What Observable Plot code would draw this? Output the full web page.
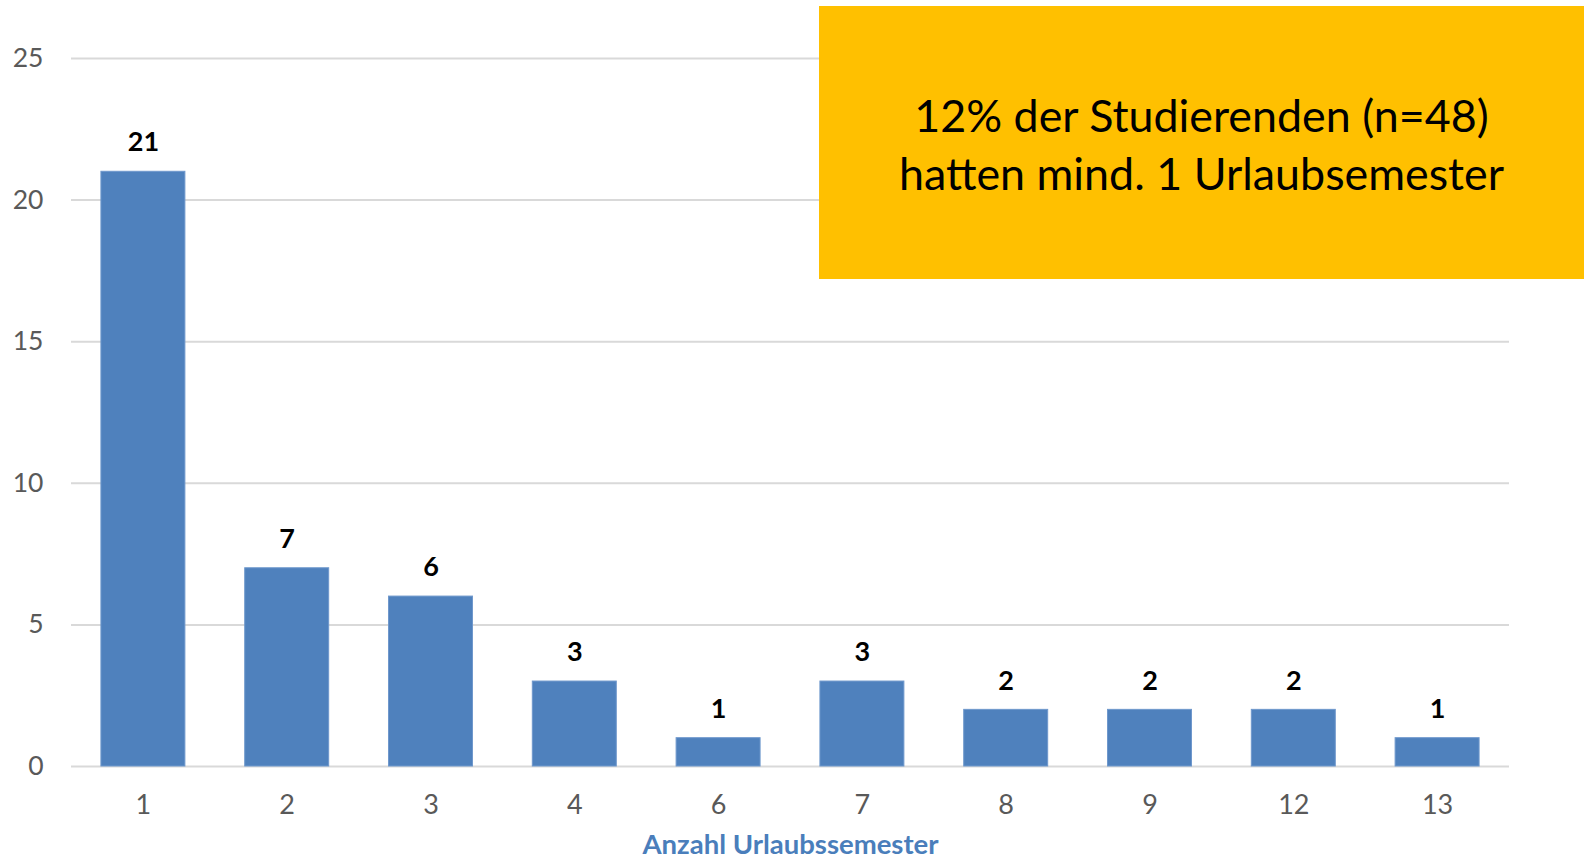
<!DOCTYPE html>
<html>
<head>
<meta charset="utf-8">
<script src="https://cdn.jsdelivr.net/npm/d3@7"></script>
<script src="https://cdn.jsdelivr.net/npm/@observablehq/plot@0.6"></script>
<style>
  html, body { margin: 0; padding: 0; background: #fff; }
  #wrap { position: relative; width: 1584px; height: 860px; overflow: hidden; }
  #note {
    position: absolute; left: 819px; top: 6px; width: 765px; height: 273px;
    background: #FFC000; color: #000;
    font-family: Lato, "Open Sans", sans-serif; font-size: 44.8px; line-height: 58px;
    display: flex; align-items: center; justify-content: center; text-align: center;
    box-sizing: border-box; padding-bottom: 0px; padding-top: 2px;
  }
</style>
</head>
<body>
<div id="wrap"></div>
<script>
const categories = ["1", "2", "3", "4", "6", "7", "8", "9", "12", "13"];
const counts = [21, 7, 6, 3, 1, 3, 2, 2, 2, 1];
const yTicks = [0, 5, 10, 15, 20, 25];
const xTitle = "Anzahl Urlaubssemester";
const noteLines = ["12% der Studierenden (n=48)", "hatten mind. 1 Urlaubsemester"];

const data = categories.map((c, i) => ({cat: c, n: counts[i]}));
const font = "Lato, 'Open Sans', sans-serif";

const chart = Plot.plot({
  width: 1584,
  height: 860,
  marginLeft: 71,
  marginRight: 75,
  marginTop: 58,
  marginBottom: 94,
  style: {fontFamily: font, background: "#fff"},
  x: {domain: categories, paddingInner: 0.416, paddingOuter: 0.208, align: 0.5, round: false, label: null},
  y: {domain: [0, 25], label: null},
  marks: [
    Plot.gridY(yTicks, {stroke: "#d9d9d9", strokeOpacity: 1, strokeWidth: 2}),
    Plot.barY(data, {x: "cat", y: "n", fill: "#4F81BD", stroke: "#6f98cc", strokeWidth: 1}),
    Plot.text(data, {x: "cat", y: "n", text: d => String(d.n), dy: -29, lineAnchor: "middle",
      fontSize: 27, fontWeight: "bold", fill: "#000"}),
    Plot.axisY(yTicks, {tickSize: 0, tickPadding: 28, fontSize: 26.5, color: "#595959", label: null}),
    Plot.axisX({tickSize: 0, tickPadding: 28, fontSize: 27, color: "#595959", label: null}),
    Plot.text([xTitle], {frameAnchor: "bottom", dy: 79, lineAnchor: "middle",
      fontSize: 27.5, fontWeight: "bold", fill: "#4a7ebb"})
  ]
});

const wrap = document.getElementById("wrap");
wrap.appendChild(chart);
const note = document.createElement("div");
note.id = "note";
const inner = document.createElement("div");
inner.innerHTML = noteLines.join("<br>");
note.appendChild(inner);
wrap.appendChild(note);
</script>
</body>
</html>
